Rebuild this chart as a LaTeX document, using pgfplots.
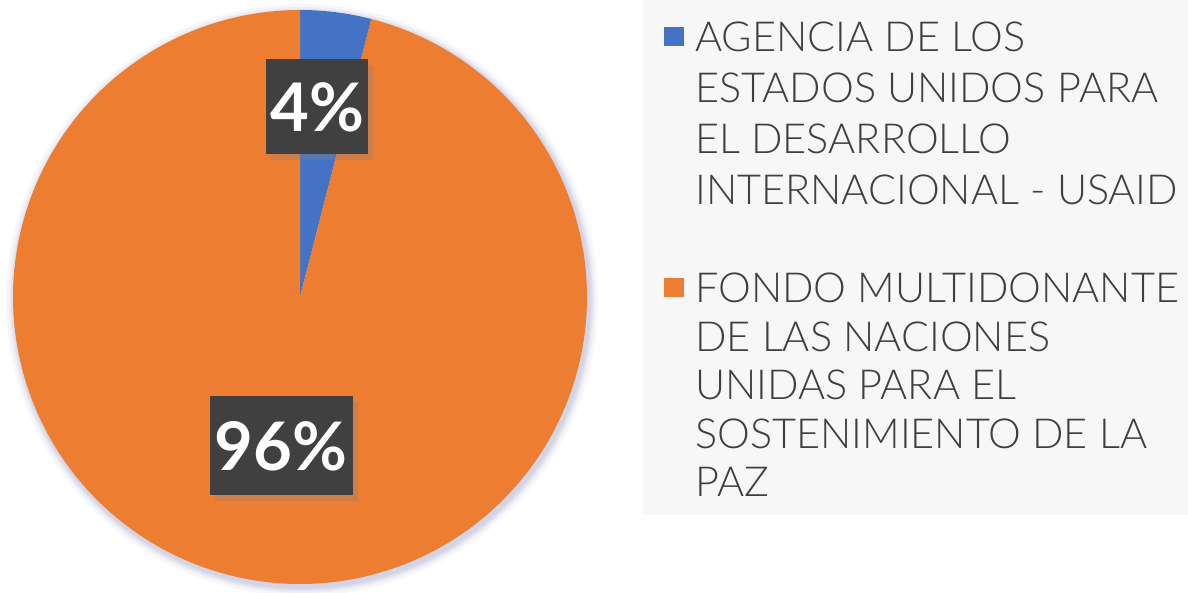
\documentclass[border=0pt]{standalone}
\usepackage{fontspec}
\setmainfont{Lato}
\newfontfamily\lightfont{Lato Light}
\usepackage{pgfplots}
\pgfplotsset{compat=1.18}
\usetikzlibrary{shadows}
\definecolor{pieblue}{HTML}{4472C4}
\definecolor{pieorange}{HTML}{ED7D31}
\definecolor{boxgray}{HTML}{404040}
\definecolor{legtext}{HTML}{3F3F3F}
\definecolor{legbg}{HTML}{F7F7F7}

% shares in percent
\def\shareA{4}
\def\shareB{96}
\pgfmathsetmacro{\angA}{90-3.6*\shareA}
\pgfmathsetmacro{\angB}{\angA-3.6*\shareB}

\begin{document}
\begin{tikzpicture}
\fill[legbg] (321.5pt,39pt) rectangle (594pt,296.5pt);
% soft shadow behind the pie
\foreach \r/\o in {148/0.03,146.5/0.04,145.5/0.05,144.5/0.06} {
  \fill[black!60!blue, opacity=\o] (151pt,146.5pt) circle (\r pt);
}
\begin{axis}[
  at={(150pt,148pt)}, anchor=center,
  x=143.5pt, y=143.5pt,
  xmin=-1, xmax=1, ymin=-1, ymax=1,
  hide axis, clip=false,
  legend style={at={(1.134,0.997)}, anchor=north west, draw=none, fill=none,
    inner sep=0pt, row sep=103pt, column sep=3.5pt,
    font=\lightfont\fontsize{20.7}{25.5}\selectfont, text=legtext,
    cells={anchor=base west}},
  legend image code/.code={\fill[#1] (0pt,3pt) rectangle (10pt,12.5pt);},
]
\addplot[draw=none, fill=pieblue, data cs=polar, domain=\angA:90, samples=20]
  (x,1) -- (axis cs:0,0) -- cycle;
\addlegendentry{\begin{tabular}[t]{@{}l@{}}AGENCIA DE LOS\\ESTADOS UNIDOS PARA\\EL DESARROLLO\\INTERNACIONAL - USAID\end{tabular}}
\addplot[draw=none, fill=pieorange, data cs=polar, domain=\angB:\angA, samples=240]
  (x,1) -- (axis cs:0,0) -- cycle;
\addlegendentry{\renewcommand\arraystretch{0.95}\begin{tabular}[t]{@{}l@{}}FONDO MULTIDONANTE\\DE LAS NACIONES\\UNIDAS PARA EL\\SOSTENIMIENTO DE LA\\PAZ\end{tabular}}
\node[fill=boxgray, text=white, font=\bfseries\fontsize{33.5}{33.5}\selectfont,
  minimum height=47.5pt, minimum width=51pt, inner xsep=0pt, drop shadow={opacity=0.3}]
  at (axis cs:0.06,0.662) {\shareA\%};
\node[fill=boxgray, text=white, font=\bfseries\fontsize{33.5}{33.5}\selectfont,
  minimum height=49.5pt, minimum width=71.5pt, inner xsep=0pt, drop shadow={opacity=0.3}]
  at (axis cs:-0.066,-0.519) {\shareB\%};
\end{axis}
\pgfresetboundingbox
\path (0pt,0pt) rectangle (594pt,296.5pt);
\end{tikzpicture}
\end{document}
